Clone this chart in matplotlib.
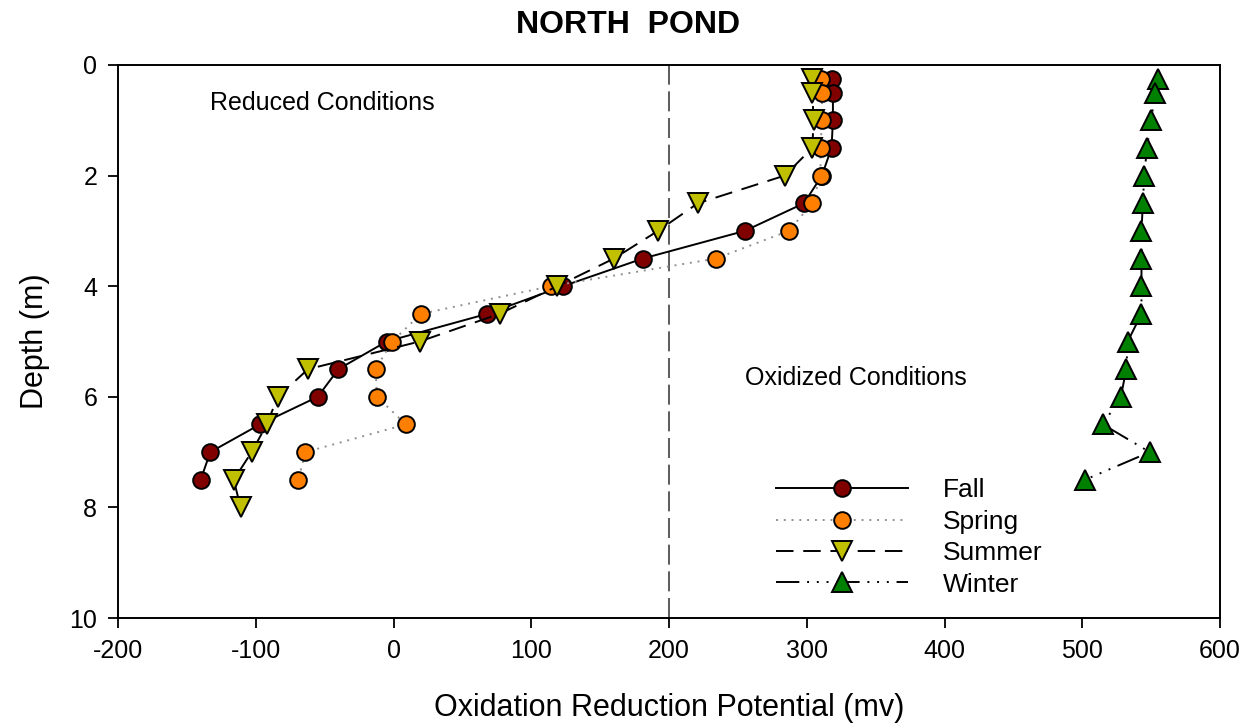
import matplotlib
matplotlib.use("Agg")
import matplotlib.pyplot as plt

plt.rcParams['font.family'] = ['Liberation Sans', 'DejaVu Sans']
plt.rcParams['axes.unicode_minus'] = False

# Data (ORP in mv vs depth in m)
fall_depth = [0.25, 0.5, 1.0, 1.5, 2.0, 2.5, 3.0, 3.5, 4.0, 4.5, 5.0, 5.5, 6.0, 6.5, 7.0, 7.5]
fall_orp = [318, 319, 319, 318, 311, 298, 255, 181, 123, 68, -5, -40, -55, -97, -133, -140]

spring_depth = [0.25, 0.5, 1.0, 1.5, 2.0, 2.5, 3.0, 3.5, 4.0, 4.5, 5.0, 5.5, 6.0, 6.5, 7.0, 7.5]
spring_orp = [310, 311, 311, 310, 310, 304, 287, 234, 114, 20, -1, -13, -12, 9, -64, -69]

summer_depth = [0.25, 0.5, 1.0, 1.5, 2.0, 2.5, 3.0, 3.5, 4.0, 4.5, 5.0, 5.5, 6.0, 6.5, 7.0, 7.5, 8.0]
summer_orp = [304, 304, 305, 304, 284, 221, 192, 160, 119, 77, 19, -62, -84, -92, -103, -116, -111]

winter_depth = [0.25, 0.5, 1.0, 1.5, 2.0, 2.5, 3.0, 3.5, 4.0, 4.5, 5.0, 5.5, 6.0, 6.5, 7.0, 7.5]
winter_orp = [555, 553, 550, 547, 545, 544, 543, 543, 543, 543, 533, 532, 528, 515, 549, 502]

x_ticks = [-200, -100, 0, 100, 200, 300, 400, 500, 600]
y_ticks = [0, 2, 4, 6, 8, 10]

fig = plt.figure(figsize=(12.52, 7.26), dpi=100)
ax = fig.add_axes([118/1252, 1 - 618/726, (1220-118)/1252, (618-65)/726])

ax.axvline(200, color='#404040', lw=1.2, dashes=(12, 4), zorder=1)

ax.plot(fall_orp, fall_depth, color='black', lw=1.4, ls='-',
        marker='o', ms=12, mfc='#800000', mec='black', mew=1.4, label='Fall', zorder=3)
ax.plot(spring_orp, spring_depth, color='#909090', lw=1.4, ls=(0, (1, 3)),
        marker='o', ms=12, mfc='#FF8000', mec='black', mew=1.4, label='Spring', zorder=4)
ax.plot(summer_orp, summer_depth, color='black', lw=1.4, ls=(0, (9, 5)),
        marker='v', ms=14, mfc='#C0C000', mec='black', mew=1.4, label='Summer', zorder=5)
ax.plot(winter_orp, winter_depth, color='black', lw=1.4, ls=(0, (12, 4, 1, 4, 1, 4, 1, 4)),
        marker='^', ms=14, mfc='#008000', mec='black', mew=1.4, label='Winter', zorder=5)

ax.set_xlim(-200, 600)
ax.set_ylim(10, 0)
ax.set_xticks(x_ticks)
ax.set_yticks(y_ticks)
ax.tick_params(direction='out', length=7, width=1.3, labelsize=18, pad=8)
for s in ax.spines.values():
    s.set_linewidth(1.4)

ax.set_xlabel('Oxidation Reduction Potential (mv)', fontsize=22, labelpad=22)
ax.set_ylabel('Depth (m)', fontsize=22, labelpad=14)
fig.text(628/1252, 1 - 25/726, 'NORTH  POND', fontsize=23, fontweight='bold',
         ha='center', va='center')

ax.text(-133, 0.69, 'Reduced Conditions', fontsize=18, va='center', ha='left')
ax.text(255, 5.66, 'Oxidized Conditions', fontsize=18, va='center', ha='left')

ax.legend(loc='upper left', bbox_to_anchor=((776-118-18)/1102, 1 - (460-65)/553),
          frameon=False, fontsize=19, handlelength=5.0, handletextpad=1.3,
          labelspacing=0.28, borderpad=0.2)

fig.savefig('out.png', dpi=100)
